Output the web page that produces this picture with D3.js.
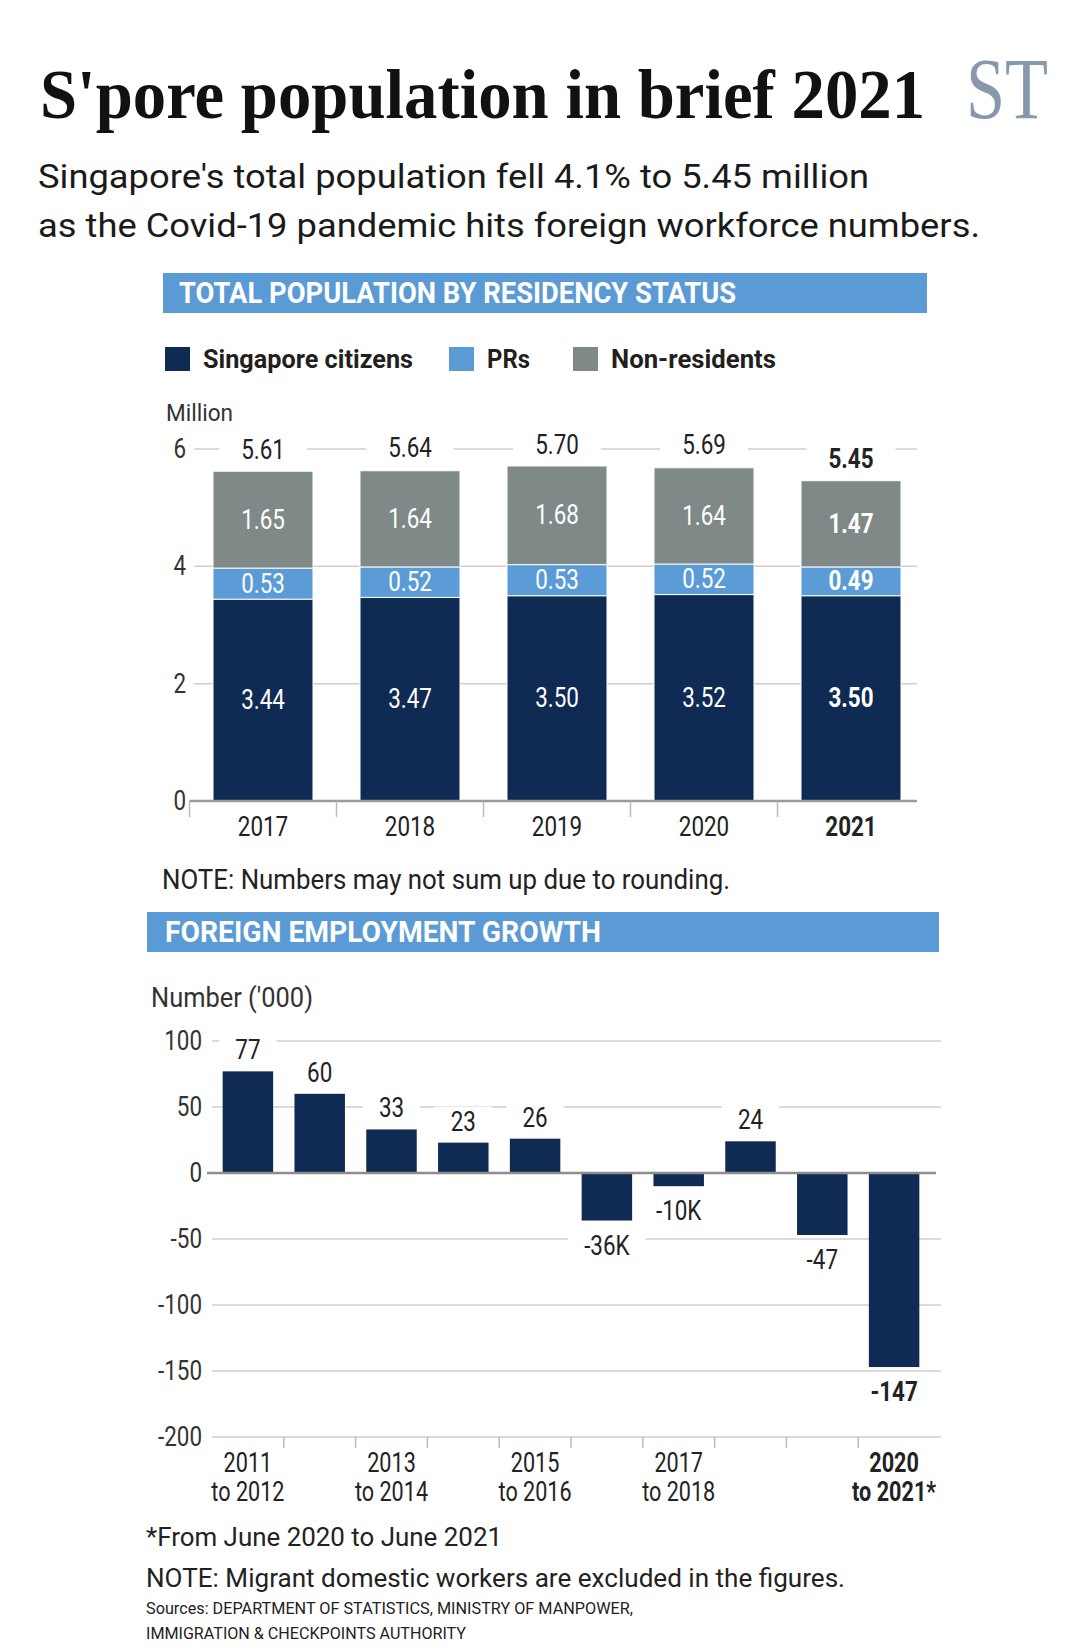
<!DOCTYPE html>
<html>
<head>
<meta charset="utf-8">
<script src="https://cdn.jsdelivr.net/npm/d3@7/dist/d3.min.js"></script>
<style>
  html, body { margin: 0; padding: 0; background: #fff; }
  svg { display: block; font-family: Roboto, "Noto Sans", sans-serif; }
</style>
</head>
<body>
<script>
// ---------- DATA ----------
const years = ["2017", "2018", "2019", "2020", "2021"];
const citizens = [3.44, 3.47, 3.50, 3.52, 3.50];
const prs = [0.53, 0.52, 0.53, 0.52, 0.49];
const nonResidents = [1.65, 1.64, 1.68, 1.64, 1.47];
const totals = [5.61, 5.64, 5.70, 5.69, 5.45];
const popTicks = [0, 2, 4, 6];
const seriesNames = ["Singapore citizens", "PRs", "Non-residents"];

const periods = ["2011 to 2012", "2012 to 2013", "2013 to 2014", "2014 to 2015", "2015 to 2016",
                 "2016 to 2017", "2017 to 2018", "2018 to 2019", "2019 to 2020", "2020 to 2021*"];
const growth = [77, 60, 33, 23, 26, -36, -10, 24, -47, -147];
const growthLabels = ["77", "60", "33", "23", "26", "-36K", "-10K", "24", "-47", "-147"];
const growthTicks = [100, 50, 0, -50, -100, -150, -200];
const labelledPeriods = ["2011 to 2012", "2013 to 2014", "2015 to 2016", "2017 to 2018", "2020 to 2021*"];

// ---------- STYLE ----------
const NAVY = "#0f2a53", BLUE = "#5b9bd6", GREY = "#7f8987";
const HEADER = "#5b9bd5", INK = "#231f20", GRID = "#cfcfcf", AXIS = "#9a9a9a";
const SERIF = "'Liberation Serif', 'DejaVu Serif', serif";

const W = 1080, H = 1650;
const svg = d3.select("body").append("svg").attr("width", W).attr("height", H);
svg.append("rect").attr("width", W).attr("height", H).attr("fill", "#fff");

function squeeze(sel, f) {
  sel.each(function () {
    const n = this.getComputedTextLength();
    this.setAttribute("textLength", (n * f).toFixed(1));
    this.setAttribute("lengthAdjust", "spacingAndGlyphs");
  });
  return sel;
}
function fitW(sel, w) {
  sel.attr("textLength", w).attr("lengthAdjust", "spacingAndGlyphs");
  return sel;
}
function txt(x, y, s, size, opts = {}) {
  const t = svg.append("text").attr("x", x).attr("y", y).text(s)
    .attr("font-size", size).attr("fill", opts.fill || INK)
    .attr("font-weight", opts.weight || 400)
    .attr("text-anchor", opts.anchor || "start");
  if (opts.family) t.style("font-family", opts.family);
  if (opts.w) fitW(t, opts.w); else squeeze(t, opts.f || 0.83);
  return t;
}

// ---------- HEADER ----------
txt(40, 118, "S'pore population in brief 2021", 70,
    { family: SERIF, weight: 700, w: 885, fill: "#111" });
txt(966, 118, "ST", 86, { family: SERIF, fill: "#8798ae", w: 82 });

txt(38, 188, "Singapore's total population fell 4.1% to 5.45 million", 34, { w: 831, fill: "#1a1a1a" });
txt(38, 237, "as the Covid-19 pandemic hits foreign workforce numbers.", 34, { w: 942, fill: "#1a1a1a" });

// Section header 1
svg.append("rect").attr("x", 163).attr("y", 273).attr("width", 764).attr("height", 40).attr("fill", HEADER);
txt(179, 303, "TOTAL POPULATION BY RESIDENCY STATUS", 30, { weight: 700, fill: "#fff", w: 557 });

// Legend
const legendColors = [NAVY, BLUE, GREY];
const legendX = [165, 449, 573];
const legendW = [210, 43, 165];
seriesNames.forEach((n, i) => {
  svg.append("rect").attr("x", legendX[i]).attr("y", 347).attr("width", 25).attr("height", 24)
    .attr("fill", legendColors[i]);
  txt(legendX[i] + 38, 368, n, 26, { weight: 700, w: legendW[i] });
});

// ---------- CHART 1 ----------
const y1 = d3.scaleLinear().domain([0, 6]).range([801, 449]);
const x1 = d3.scaleBand().domain(years).range([189.5, 924.5]).paddingInner(0.32).paddingOuter(0.16);

txt(166, 421, "Million", 24, { w: 67, fill: "#333" });

const g1 = svg.append("g");
popTicks.filter(d => d > 0).forEach(d => {
  g1.append("line").attr("x1", 194).attr("x2", 917).attr("y1", y1(d)).attr("y2", y1(d))
    .attr("stroke", GRID).attr("stroke-width", 1.5);
});
popTicks.forEach(d => {
  txt(186, y1(d) + 9, String(d), 27, { anchor: "end", fill: "#333" });
});

const rows = years.map((yr, i) => ({ year: yr, c: citizens[i], p: prs[i], n: nonResidents[i] }));
const stack = d3.stack().keys(["c", "p", "n"])(rows);
const segColors = { c: NAVY, p: BLUE, n: GREY };
stack.forEach(layer => {
  svg.append("g").selectAll("rect").data(layer).join("rect")
    .attr("x", d => x1(d.data.year))
    .attr("width", x1.bandwidth())
    .attr("y", d => y1(d[1]))
    .attr("height", d => y1(d[0]) - y1(d[1]))
    .attr("fill", segColors[layer.key])
    .attr("stroke", "#fff").attr("stroke-width", 1.2).attr("stroke-opacity", 0.8);
  layer.forEach(d => {
    const bold = d.data.year === "2021";
    const v = d.data[layer.key];
    txt(x1(d.data.year) + x1.bandwidth() / 2, y1((d[0] + d[1]) / 2) + 9, v.toFixed(2), 27,
        { anchor: "middle", fill: "#fff", weight: bold ? 700 : 400 });
  });
});

years.forEach((yr, i) => {
  const bold = yr === "2021";
  const cx = x1(yr) + x1.bandwidth() / 2;
  const by = y1(totals[i]) - 13;
  const bg = svg.append("rect").attr("fill", "#fff");
  const t = txt(cx, by, totals[i].toFixed(2), 27, { anchor: "middle", weight: bold ? 700 : 400, fill: "#222" });
  const tw = +t.attr("textLength");
  bg.attr("x", cx - tw / 2 - 22).attr("width", tw + 44).attr("y", by - 24).attr("height", 30);
});

const cellStart = d => x1(d) - x1.step() * x1.paddingInner() / 2;
svg.append("line").attr("x1", cellStart(years[0])).attr("x2", 917).attr("y1", y1(0)).attr("y2", y1(0))
  .attr("stroke", AXIS).attr("stroke-width", 2.5);
years.forEach(yr => {
  svg.append("line").attr("x1", cellStart(yr)).attr("x2", cellStart(yr))
    .attr("y1", y1(0)).attr("y2", y1(0) + 16).attr("stroke", "#bbb").attr("stroke-width", 1.5);
  txt(x1(yr) + x1.bandwidth() / 2, 836, yr, 28,
      { anchor: "middle", weight: yr === "2021" ? 700 : 400, f: 0.8, fill: "#222" });
});

txt(162, 889, "NOTE: Numbers may not sum up due to rounding.", 27, { w: 568, fill: "#222" });

// ---------- CHART 2 ----------
svg.append("rect").attr("x", 147).attr("y", 912).attr("width", 792).attr("height", 40).attr("fill", HEADER);
txt(165, 942, "FOREIGN EMPLOYMENT GROWTH", 30, { weight: 700, fill: "#fff", w: 436 });

txt(151, 1007, "Number ('000)", 27, { w: 162, fill: "#333" });

const y2 = d3.scaleLinear().domain([-200, 100]).range([1437, 1041]);
const x2 = d3.scaleBand().domain(periods).range([212, 930]).paddingInner(0.297).paddingOuter(0.1485);

growthTicks.forEach(d => {
  if (d !== 0) {
    svg.append("line").attr("x1", 212).attr("x2", 941).attr("y1", y2(d)).attr("y2", y2(d))
      .attr("stroke", GRID).attr("stroke-width", 1.5);
  }
  txt(202, y2(d) + 9, String(d), 27, { anchor: "end", fill: "#333" });
});

svg.append("g").selectAll("rect").data(periods).join("rect")
  .attr("x", d => x2(d))
  .attr("width", x2.bandwidth())
  .attr("y", (d, i) => y2(Math.max(0, growth[i])))
  .attr("height", (d, i) => Math.abs(y2(growth[i]) - y2(0)))
  .attr("fill", NAVY);

svg.append("line").attr("x1", 207).attr("x2", 936).attr("y1", y2(0)).attr("y2", y2(0))
  .attr("stroke", "#8d8d8d").attr("stroke-width", 2.5);

periods.forEach((p, i) => {
  const v = growth[i];
  const cx = x2(p) + x2.bandwidth() / 2;
  const by = v >= 0 ? y2(v) - 12 : y2(v) + 34;
  const bold = i === periods.length - 1;
  const bg = svg.append("rect").attr("fill", "#fff");
  const t = txt(cx, by, growthLabels[i], 27, { anchor: "middle", weight: bold ? 700 : 400, fill: "#222" });
  const tw = +t.attr("textLength");
  bg.attr("x", cx - tw / 2 - 16).attr("width", tw + 32).attr("y", by - 24).attr("height", 30);
});

periods.slice(1).forEach(p => {
  const tx = x2(p) - x2.step() * x2.paddingInner() / 2;
  svg.append("line").attr("x1", tx).attr("x2", tx).attr("y1", y2(-200)).attr("y2", y2(-200) + 11)
    .attr("stroke", "#bbb").attr("stroke-width", 1.5);
});

labelledPeriods.forEach(p => {
  const cx = x2(p) + x2.bandwidth() / 2;
  const bold = p === periods[periods.length - 1];
  const parts = p.split(" to ");
  txt(cx, 1472, parts[0], 27, { anchor: "middle", weight: bold ? 700 : 400, f: 0.8, fill: "#222" });
  txt(cx, 1501, "to " + parts[1], 27, { anchor: "middle", weight: bold ? 700 : 400, f: 0.8, fill: "#222" });
});

txt(146, 1546, "*From June 2020 to June 2021", 26, { w: 356, fill: "#222" });
txt(146, 1587, "NOTE: Migrant domestic workers are excluded in the figures.", 26, { w: 699, fill: "#222" });
txt(146, 1614, "Sources: DEPARTMENT OF STATISTICS, MINISTRY OF MANPOWER,", 17, { w: 487, fill: "#222" });
txt(146, 1639, "IMMIGRATION & CHECKPOINTS AUTHORITY", 17, { w: 320, fill: "#222" });
</script>
</body>
</html>
